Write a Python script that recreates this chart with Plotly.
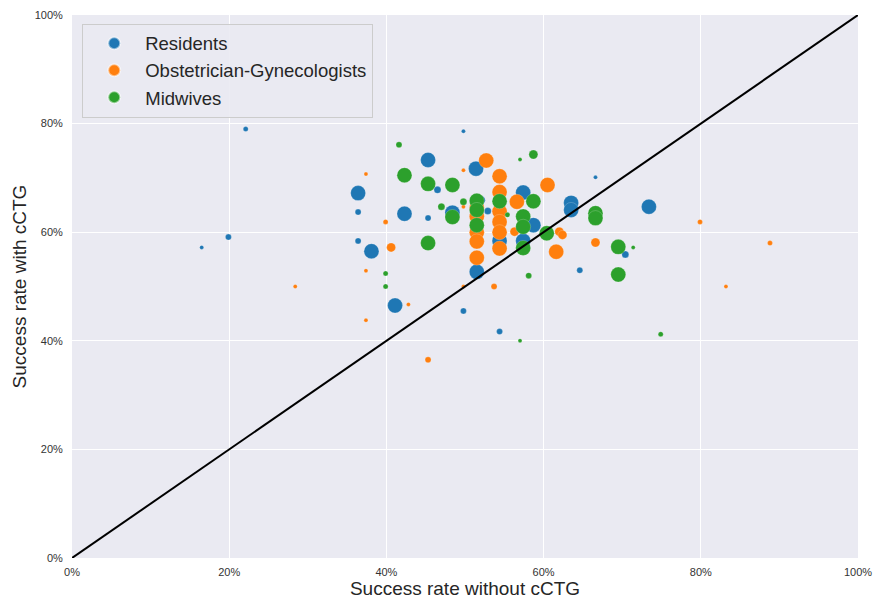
import plotly.graph_objects as go

# Residents
res_x = [22.1, 19.9, 16.5, 36.4, 36.4, 36.4, 38.1, 45.3, 42.3, 45.3, 46.5, 49.8, 51.4, 41.1, 49.8,
         54.4, 51.5, 54.4, 57.4, 57.4, 58.7, 63.5, 63.5, 64.6, 66.6, 70.4, 73.4, 48.4, 52.9, 52.0]
res_y = [79.0, 59.1, 57.2, 67.2, 63.7, 58.4, 56.5, 73.3, 63.4, 62.6, 67.8, 78.6, 71.7, 46.5, 45.5,
         41.7, 52.7, 58.4, 67.3, 58.4, 61.3, 65.4, 64.1, 53.0, 70.1, 55.9, 64.7, 63.6, 63.9, 65.9]
res_n = [5, 6, 4, 15, 6, 6, 15, 15, 15, 6, 7, 4, 15, 15, 6,
         6, 15, 15, 15, 15, 15, 15, 15, 6, 4, 7, 15, 15, 7, 9]

# Obstetrician-Gynecologists
obg_x = [37.4, 39.9, 40.6, 37.4, 28.4, 42.8, 37.4, 45.3, 49.8, 52.7, 54.4, 54.4, 54.4, 54.4, 54.4,
         54.4, 51.5, 51.5, 51.5, 51.5, 51.5, 49.8, 49.8, 53.7, 56.6, 56.3, 60.5, 62.0, 62.4, 61.6,
         66.6, 79.9, 88.8, 83.2]
obg_y = [70.7, 61.9, 57.2, 52.9, 50.0, 46.7, 43.8, 36.5, 71.4, 73.2, 70.3, 67.4, 63.8, 61.9, 60.0,
         57.0, 64.5, 62.9, 60.0, 58.3, 55.3, 64.7, 50.0, 50.0, 65.6, 60.1, 68.7, 60.1, 59.5, 56.4,
         58.1, 61.9, 58.0, 50.0]
obg_n = [4, 5, 9, 4, 4, 4, 4, 6, 4, 15, 15, 15, 15, 15, 15,
         15, 15, 15, 15, 15, 15, 4, 4, 6, 15, 9, 15, 9, 9, 15,
         9, 5, 5, 4]

# Midwives
mid_x = [41.6, 42.3, 45.3, 48.4, 47.0, 49.8, 48.4, 51.5, 51.5, 51.5, 54.4, 55.4, 57.0, 58.7, 58.7,
         57.4, 57.4, 57.4, 60.4, 66.6, 66.6, 69.5, 71.4, 69.5, 58.1, 45.3, 39.9, 39.9, 57.0, 74.9]
mid_y = [76.1, 70.5, 68.9, 68.7, 64.7, 65.6, 62.8, 65.8, 64.1, 61.3, 65.7, 63.2, 73.4, 74.3, 65.7,
         62.9, 61.0, 57.1, 59.8, 63.5, 62.6, 57.3, 57.2, 52.2, 52.0, 58.0, 52.4, 50.0, 40.0, 41.2]
mid_n = [6, 15, 15, 15, 7, 7, 15, 15, 15, 15, 15, 5, 4, 9, 15,
         15, 15, 15, 15, 15, 15, 15, 4, 15, 6, 15, 5, 5, 4, 5]

diag = [0, 100]
ticks = [0, 20, 40, 60, 80, 100]
tick_labels = ["0%", "20%", "40%", "60%", "80%", "100%"]

FONT = "Liberation Sans, Arial"

fig = go.Figure()
for name, xs, ys, ns, col in [
    ("Residents", res_x, res_y, res_n, "#1f77b4"),
    ("Obstetrician-Gynecologists", obg_x, obg_y, obg_n, "#ff7f0e"),
    ("Midwives", mid_x, mid_y, mid_n, "#2ca02c"),
]:
    fig.add_trace(go.Scatter(
        x=xs, y=ys, mode="markers", name=name,
        marker=dict(size=ns, color=col, opacity=1,
                    line=dict(width=0.4, color="rgba(255,255,255,0.5)")),
    ))

fig.add_trace(go.Scatter(x=diag, y=diag, mode="lines", showlegend=False,
                         line=dict(color="black", width=2), hoverinfo="skip"))

axis_common = dict(
    range=[0, 100], tickvals=ticks, ticktext=tick_labels, showgrid=True, gridcolor="white",
    gridwidth=1, zeroline=False, showline=False, ticks="outside", tickcolor="rgba(0,0,0,0)",
    tickfont=dict(family=FONT, size=11, color="#333333"), automargin=False,
)
fig.update_xaxes(**axis_common, ticklen=4,
                 title=dict(text="Success rate without cCTG",
                            font=dict(family=FONT, size=19, color="#262626"), standoff=4))
fig.update_yaxes(**axis_common, ticklen=6,
                 title=dict(text="Success rate with cCTG",
                            font=dict(family=FONT, size=19, color="#262626"), standoff=3))

fig.update_layout(
    width=874, height=600,
    margin=dict(l=72, r=16, t=15, b=42),
    plot_bgcolor="#EAEAF2", paper_bgcolor="white",
    font=dict(family=FONT, color="#262626"),
    legend=dict(x=0.013, y=0.984, xanchor="left", yanchor="top",
                bgcolor="rgba(234,234,242,0.9)", bordercolor="#CCCCCC", borderwidth=1,
                font=dict(size=18.5, color="#262626"), itemsizing="constant",
                itemwidth=52),
)

fig.write_html("out.html")
